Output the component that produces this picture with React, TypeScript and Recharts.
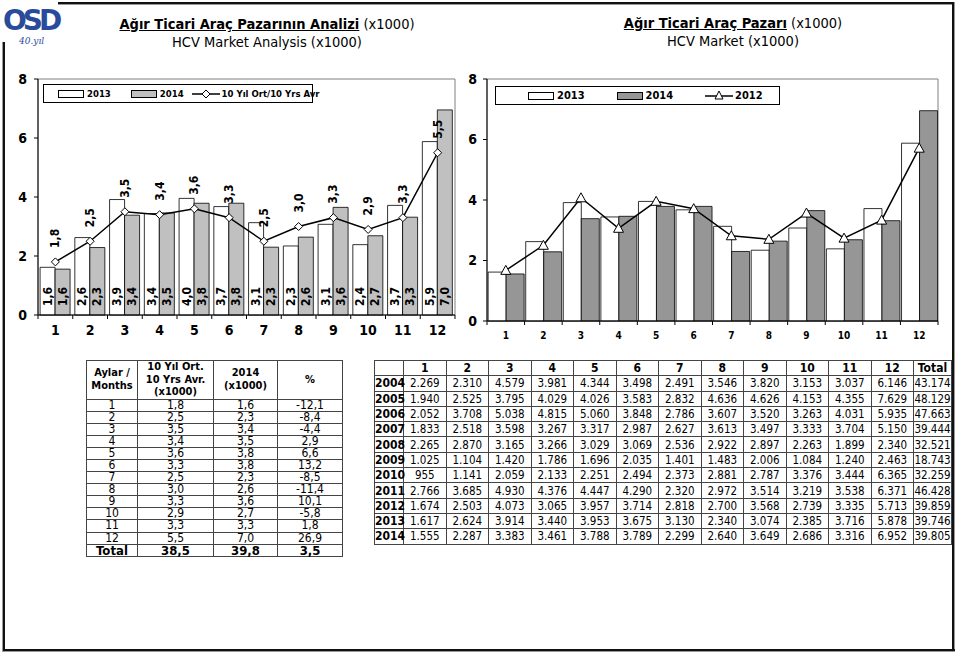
import React from "react";
import { ComposedChart, Bar, Line, XAxis, YAxis, ReferenceArea } from "recharts";

// --- data (x1000 units in the tables, raw units for the yearly table) ---
const months = [1, 2, 3, 4, 5, 6, 7, 8, 9, 10, 11, 12];

const years = ["2004", "2005", "2006", "2007", "2008", "2009", "2010", "2011", "2012", "2013", "2014"];
const y2004 = [2269, 2310, 4579, 3981, 4344, 3498, 2491, 3546, 3820, 3153, 3037, 6146];
const y2005 = [1940, 2525, 3795, 4029, 4026, 3583, 2832, 4636, 4626, 4153, 4355, 7629];
const y2006 = [2052, 3708, 5038, 4815, 5060, 3848, 2786, 3607, 3520, 3263, 4031, 5935];
const y2007 = [1833, 2518, 3598, 3267, 3317, 2987, 2627, 3613, 3497, 3333, 3704, 5150];
const y2008 = [2265, 2870, 3165, 3266, 3029, 3069, 2536, 2922, 2897, 2263, 1899, 2340];
const y2009 = [1025, 1104, 1420, 1786, 1696, 2035, 1401, 1483, 2006, 1084, 1240, 2463];
const y2010 = [955, 1141, 2059, 2133, 2251, 2494, 2373, 2881, 2787, 3376, 3444, 6365];
const y2011 = [2766, 3685, 4930, 4376, 4447, 4290, 2320, 2972, 3514, 3219, 3538, 6371];
const y2012 = [1674, 2503, 4073, 3065, 3957, 3714, 2818, 2700, 3568, 2739, 3335, 5713];
const y2013 = [1617, 2624, 3914, 3440, 3953, 3675, 3130, 2340, 3074, 2385, 3716, 5878];
const y2014 = [1555, 2287, 3383, 3461, 3788, 3789, 2299, 2640, 3649, 2686, 3316, 6952];
const yearTotals = [43174, 48129, 47663, 39444, 32521, 18743, 32259, 46428, 39859, 39746, 39805];

const avg10 = [1.8, 2.5, 3.5, 3.4, 3.6, 3.3, 2.5, 3.0, 3.3, 2.9, 3.3, 5.5];
const v2014 = [1.6, 2.3, 3.4, 3.5, 3.8, 3.8, 2.3, 2.6, 3.6, 2.7, 3.3, 7.0];
const pctChange = [-12.1, -8.4, -4.4, 2.9, 6.6, 13.2, -8.5, -11.4, 10.1, -5.8, 1.8, 26.9];
const summaryTotals = [38.5, 39.8, 3.5];

const yTicks = [0, 2, 4, 6, 8];

const yearRows = [y2004, y2005, y2006, y2007, y2008, y2009, y2010, y2011, y2012, y2013, y2014];

const leftData = months.map((m, i) => ({
  m,
  s2013: y2013[i] / 1000,
  s2014: y2014[i] / 1000,
  avg: avg10[i],
}));

const rightData = months.map((m, i) => ({
  m,
  s2013: y2013[i] / 1000,
  s2014: y2014[i] / 1000,
  s2012: y2012[i] / 1000,
}));

const FONT = '"DejaVu Sans Condensed", "DejaVu Sans", sans-serif';
const NARROW = '"Liberation Sans Narrow", "DejaVu Sans Condensed", sans-serif';
const comma = (v: number) => v.toFixed(1).replace(".", ",");
const dots = (n: number) => String(n).replace(/\B(?=(\d{3})+(?!\d))/g, ".");

// category band widths (plot width / 12)
const LEFT_BAND = (455 - 38) / 12;
const RIGHT_BAND = (938 - 487) / 12;

function makeTick(band: number, size: number, dy: number) {
  return (props: any) => {
    const { x, y, payload, index } = props;
    return (
      <g>
        <line x1={x - band / 2} x2={x - band / 2} y1={y} y2={y + 4} stroke="#000" />
        {index === 11 && <line x1={x + band / 2} x2={x + band / 2} y1={y} y2={y + 4} stroke="#000" />}
        <text x={x} y={y + dy} textAnchor="middle" fontSize={size} fontWeight="bold" fontFamily={FONT} fill="#000">
          {payload.value}
        </text>
      </g>
    );
  };
}

const BarInsideLabel = (props: any) => {
  const { x, y, width, height, value } = props;
  const cx = x + width / 2;
  const by = y + height - 9;
  return (
    <text
      x={cx}
      y={by}
      transform={`rotate(-90 ${cx} ${by})`}
      textAnchor="start"
      dominantBaseline="central"
      fontSize={12}
      fontWeight="bold"
      fontFamily={FONT}
      fill="#000"
    >
      {comma(value)}
    </text>
  );
};

const LineTopLabel = (props: any) => {
  const { x, y, value } = props;
  const ty = y - 14;
  return (
    <text
      x={x}
      y={ty}
      transform={`rotate(-90 ${x} ${ty})`}
      textAnchor="start"
      dominantBaseline="central"
      fontSize={12}
      fontWeight="bold"
      fontFamily={FONT}
      fill="#000"
    >
      {comma(value)}
    </text>
  );
};

const Diamond = (props: any) => {
  const { cx, cy } = props;
  if (cx == null || cy == null) return null;
  return <polygon points={`${cx},${cy - 4} ${cx + 4},${cy} ${cx},${cy + 4} ${cx - 4},${cy}`} fill="#fff" stroke="#000" strokeWidth={1} />;
};

const Triangle = (props: any) => {
  const { cx, cy } = props;
  if (cx == null || cy == null) return null;
  return <polygon points={`${cx},${cy - 5} ${cx + 5},${cy + 4} ${cx - 5},${cy + 4}`} fill="#fff" stroke="#000" strokeWidth={1} />;
};

const yTick = { fontSize: 14, fontWeight: "bold", fill: "#000", fontFamily: FONT } as any;

function LeftChart() {
  return (
    <ComposedChart
      width={470}
      height={290}
      data={leftData}
      margin={{ top: 19, right: 15, bottom: 5, left: 8 }}
      barCategoryGap="6%"
      barGap={0}
    >
      <ReferenceArea y1={0} y2={8} fill="none" stroke="#808080" />
      <XAxis dataKey="m" tickLine={false} tickSize={0} tickMargin={0} height={30} axisLine={{ stroke: "#000" }} tick={makeTick(LEFT_BAND, 14, 20)} interval={0} />
      <YAxis domain={[0, 8]} ticks={yTicks} width={30} tickSize={4} tickMargin={7} tick={yTick} axisLine={{ stroke: "#000" }} tickLine={{ stroke: "#000" }} />
      <Bar dataKey="s2013" fill="#ffffff" stroke="#000" strokeWidth={0.8} isAnimationActive={false} label={BarInsideLabel} />
      <Bar dataKey="s2014" fill="#c0c0c0" stroke="#000" strokeWidth={0.8} isAnimationActive={false} label={BarInsideLabel} />
      <Line dataKey="avg" stroke="#000" strokeWidth={1.5} dot={Diamond} activeDot={false} isAnimationActive={false} label={LineTopLabel} />
    </ComposedChart>
  );
}

function RightChart() {
  return (
    <ComposedChart
      width={520}
      height={290}
      data={rightData}
      margin={{ top: 19, right: 22, bottom: 4, left: 8 }}
      barCategoryGap="3%"
      barGap={0}
    >
      <ReferenceArea y1={0} y2={8} fill="none" stroke="#808080" />
      <XAxis dataKey="m" tickLine={false} tickSize={0} tickMargin={0} height={25} axisLine={{ stroke: "#000" }} tick={makeTick(RIGHT_BAND, 10, 18)} interval={0} />
      <YAxis domain={[0, 8]} ticks={yTicks} width={39} tickSize={4} tickMargin={6} tick={yTick} axisLine={{ stroke: "#000" }} tickLine={{ stroke: "#000" }} />
      <Bar dataKey="s2013" fill="#ffffff" stroke="#000" strokeWidth={0.8} isAnimationActive={false} />
      <Bar dataKey="s2014" fill="#969696" stroke="#000" strokeWidth={0.8} isAnimationActive={false} />
      <Line dataKey="s2012" stroke="#000" strokeWidth={1.5} dot={Triangle} activeDot={false} isAnimationActive={false} />
    </ComposedChart>
  );
}

const swatch = (fill: string): React.CSSProperties => ({
  display: "inline-block",
  width: 24,
  height: 6,
  background: fill,
  border: "1px solid #000",
  verticalAlign: "middle",
  marginRight: 3,
  flex: "none",
});

function LegendLine({ marker }: { marker: "diamond" | "triangle" }) {
  return (
    <svg width={28} height={12} style={{ verticalAlign: "middle", marginRight: 2, flex: "none" }}>
      <line x1={0} x2={28} y1={6} y2={6} stroke="#000" strokeWidth={1.5} />
      {marker === "diamond" ? (
        <polygon points="14,2 18,6 14,10 10,6" fill="#fff" stroke="#000" />
      ) : (
        <polygon points="14,1 18,9 10,9" fill="#fff" stroke="#000" />
      )}
    </svg>
  );
}

const legendBox: React.CSSProperties = {
  position: "absolute",
  background: "#fff",
  border: "1px solid #000",
  fontFamily: FONT,
  fontWeight: "bold",
  display: "flex",
  alignItems: "center",
  boxSizing: "border-box",
  whiteSpace: "nowrap",
};

const th: React.CSSProperties = { border: "1px solid #444", fontWeight: "bold", padding: 0, textAlign: "center" };
const td: React.CSSProperties = { border: "1px solid #444", padding: 0, textAlign: "center" };

function SummaryTable() {
  return (
    <table
      style={{
        position: "absolute",
        left: 86,
        top: 360,
        width: 256,
        borderCollapse: "collapse",
        tableLayout: "fixed",
        fontFamily: FONT,
        fontSize: 12,
        border: "1.5px solid #000",
        lineHeight: "11px",
      }}
    >
      <colgroup>
        <col style={{ width: 51 }} />
        <col style={{ width: 76 }} />
        <col style={{ width: 64 }} />
        <col style={{ width: 65 }} />
      </colgroup>
      <thead>
        <tr style={{ height: 38, fontSize: 11, lineHeight: "12.5px" }}>
          <th style={th}>
            Aylar /<br />Months
          </th>
          <th style={th}>
            10 Yıl Ort.<br />10 Yrs Avr.<br />(x1000)
          </th>
          <th style={th}>
            2014<br />(x1000)
          </th>
          <th style={th}>%</th>
        </tr>
      </thead>
      <tbody>
        {months.map((m, i) => (
          <tr key={m} style={{ height: 12.1 }}>
            <td style={td}>{m}</td>
            <td style={td}>{comma(avg10[i])}</td>
            <td style={td}>{comma(v2014[i])}</td>
            <td style={td}>{comma(pctChange[i])}</td>
          </tr>
        ))}
        <tr style={{ height: 12.5, fontWeight: "bold", fontSize: 13 }}>
          <td style={td}>Total</td>
          {summaryTotals.map((t, i) => (
            <td key={i} style={td}>
              {comma(t)}
            </td>
          ))}
        </tr>
      </tbody>
    </table>
  );
}

function YearTable() {
  return (
    <table
      style={{
        position: "absolute",
        left: 374,
        top: 360,
        width: 577,
        borderCollapse: "collapse",
        tableLayout: "fixed",
        fontFamily: NARROW,
        fontSize: 11.5,
        border: "1.5px solid #000",
        lineHeight: "12px",
      }}
    >
      <colgroup>
        <col style={{ width: 29 }} />
        {months.map((m) => (
          <col key={m} style={{ width: 42.5 }} />
        ))}
        <col style={{ width: 38 }} />
      </colgroup>
      <thead>
        <tr style={{ height: 15.3, fontSize: 12 }}>
          <th style={th}></th>
          {months.map((m) => (
            <th key={m} style={th}>
              {m}
            </th>
          ))}
          <th style={th}>Total</th>
        </tr>
      </thead>
      <tbody>
        {yearRows.map((row, r) => (
          <tr key={years[r]} style={{ height: 15.3 }}>
            <td style={{ ...td, fontWeight: "bold", fontSize: 12 }}>{years[r]}</td>
            {row.map((v, i) => (
              <td key={i} style={td}>
                {dots(v)}
              </td>
            ))}
            <td style={td}>{dots(yearTotals[r])}</td>
          </tr>
        ))}
      </tbody>
    </table>
  );
}

const titleStyle: React.CSSProperties = {
  position: "absolute",
  textAlign: "center",
  fontFamily: FONT,
  fontSize: 14.5,
  lineHeight: "18px",
  color: "#000",
};

export default function App() {
  return (
    <div style={{ position: "absolute", left: 0, top: 0, width: 960, height: 655, background: "#fff", overflow: "hidden" }}>
      {/* frame */}
      <div style={{ position: "absolute", left: 58, top: 2, width: 897, height: 2, background: "#111", borderBottom: "1px solid #999" }} />
      <div style={{ position: "absolute", left: 952, top: 2, width: 2, height: 649, background: "#111", borderRight: "1px solid #999" }} />
      <div style={{ position: "absolute", left: 2, top: 649, width: 953, height: 2, background: "#111", borderBottom: "1px solid #999" }} />
      <div style={{ position: "absolute", left: 2, top: 42, width: 2, height: 609, background: "#111", borderLeft: "1px solid #999" }} />

      {/* logo */}
      <svg style={{ position: "absolute", left: 2, top: 0 }} width={60} height={50}>
        <text x={1} y={30} fontFamily='"DejaVu Sans", sans-serif' fontWeight="bold" fontSize={28} letterSpacing={-4} fill="#2a4b9b" stroke="#fff" strokeWidth={1} paintOrder="stroke">
          OSD
        </text>
        <text x={17} y={44} fontFamily='"DejaVu Serif", serif' fontStyle="italic" fontSize={9} fill="#2a4b9b">
          40.yıl
        </text>
      </svg>

      {/* titles */}
      <div style={{ ...titleStyle, left: 67, width: 400, top: 15 }}>
        <span style={{ fontWeight: "bold", textDecoration: "underline" }}>Ağır Ticari Araç Pazarının Analizi</span> (x1000)
        <br />
        HCV Market Analysis (x1000)
      </div>
      <div style={{ ...titleStyle, left: 533, width: 400, top: 14 }}>
        <span style={{ fontWeight: "bold", textDecoration: "underline" }}>Ağır Ticari Araç Pazarı</span> (x1000)
        <br />
        HCV Market (x1000)
      </div>

      {/* charts */}
      <div style={{ position: "absolute", left: 0, top: 60 }}>
        <LeftChart />
      </div>
      <div style={{ position: "absolute", left: 440, top: 60 }}>
        <RightChart />
      </div>

      {/* legends */}
      <div style={{ ...legendBox, left: 43, top: 84, width: 270, height: 19, fontSize: 9.5, paddingLeft: 14 }}>
        <span style={swatch("#fff")} />
        <span style={{ marginRight: 20 }}>2013</span>
        <span style={swatch("#c0c0c0")} />
        <span style={{ marginRight: 8 }}>2014</span>
        <LegendLine marker="diamond" />
        <span>10 Yıl Ort/10 Yrs Avr</span>
      </div>
      <div style={{ ...legendBox, left: 495, top: 86, width: 285, height: 19, fontSize: 11, paddingLeft: 32 }}>
        <span style={swatch("#fff")} />
        <span style={{ marginRight: 32 }}>2013</span>
        <span style={swatch("#969696")} />
        <span style={{ marginRight: 32 }}>2014</span>
        <LegendLine marker="triangle" />
        <span>2012</span>
      </div>

      <SummaryTable />
      <YearTable />
    </div>
  );
}
